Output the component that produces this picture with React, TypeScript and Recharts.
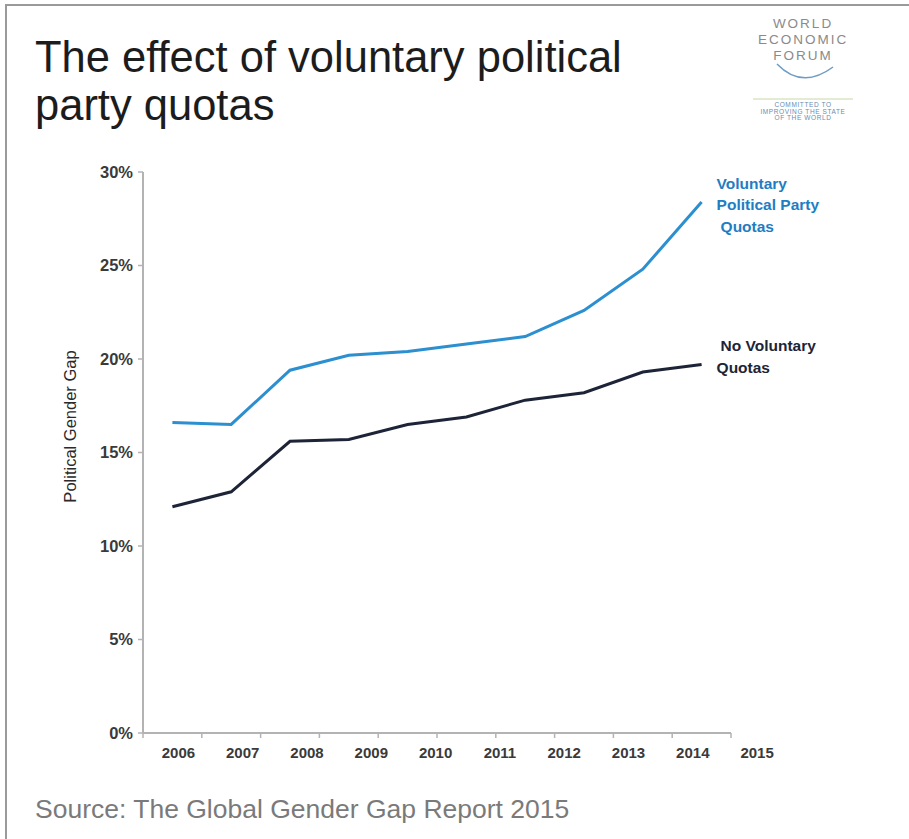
import React from 'react';
import { LineChart, Line, XAxis, YAxis, LabelList, Label } from 'recharts';

const years = ['2006', '2007', '2008', '2009', '2010', '2011', '2012', '2013', '2014', '2015'];
const voluntaryQuotas = [16.6, 16.5, 19.4, 20.2, 20.4, 20.8, 21.2, 22.6, 24.8, 28.4];
const noVoluntaryQuotas = [12.1, 12.9, 15.6, 15.7, 16.5, 16.9, 17.8, 18.2, 19.3, 19.7];
const yTicks = [0, 5, 10, 15, 20, 25, 30];
const voluntaryLabel = ['Voluntary', 'Political Party', 'Quotas'];
const noVoluntaryLabel = ['No Voluntary', 'Quotas'];
const titleLines = ['The effect of voluntary political', 'party quotas'];
const yAxisTitle = 'Political Gender Gap';
const sourceText = 'Source: The Global Gender Gap Report 2015';
const logoLines = ['WORLD', 'ECONOMIC', 'FORUM'];
const logoTagline = ['COMMITTED TO', 'IMPROVING THE STATE', 'OF THE WORLD'];

const data = years.map((year, i) => ({
  year,
  voluntary: voluntaryQuotas[i],
  none: noVoluntaryQuotas[i],
}));

const BLUE = '#2b8fd0';
const BLUE_TEXT = '#1f7dc2';
const DARK = '#1d2438';
const AXIS = '#b3b3b3';
const FONT = '"Liberation Sans", Arial, Helvetica, sans-serif';

const XTick = (props: any) => {
  const { x, y, payload } = props;
  const i = payload.index ?? props.index ?? 0;
  const half = payload.offset || 29.4;
  const isLast = i === years.length - 1;
  return (
    <g>
      <line x1={x - half} x2={x - half} y1={y} y2={y + 5} stroke={AXIS} strokeWidth={1.5} />
      {isLast && <line x1={x + half} x2={x + half} y1={y} y2={y + 5} stroke={AXIS} strokeWidth={1.5} />}
      <text
        x={x + 6 + 5.5 * i}
        y={y + 25}
        textAnchor="middle"
        fontFamily={FONT}
        fontWeight="bold"
        fontSize={15}
        fill="#3a3a3a"
      >
        {payload.value}
      </text>
    </g>
  );
};

const makeEndLabel = (lines: string[], color: string, dys: number[], dxs: number[]) => (props: any) => {
  const { x, y, index } = props;
  if (index !== years.length - 1) return null;
  return (
    <g>
      {lines.map((t, k) => (
        <text
          key={k}
          x={x + dxs[k]}
          y={y + dys[k]}
          fontFamily={FONT}
          fontWeight="bold"
          fontSize={15.5}
          fill={color}
        >
          {t}
        </text>
      ))}
    </g>
  );
};

const YTitle = (props: any) => {
  const vb = props.viewBox || { x: 0, y: 0, width: 0, height: 0 };
  const cx = vb.x + 70;
  const cy = vb.y + vb.height / 2 - 26;
  return (
    <text
      x={cx}
      y={cy}
      transform={`rotate(-90, ${cx}, ${cy})`}
      textAnchor="middle"
      dominantBaseline="central"
      fontFamily={FONT}
      fontSize={16.5}
      fill="#2a2a2a"
    >
      {yAxisTitle}
    </text>
  );
};

export default function App() {
  return (
    <div
      style={{
        position: 'absolute',
        left: 0,
        top: 0,
        width: 909,
        height: 839,
        background: '#fff',
        overflow: 'hidden',
      }}
    >
      <div
        style={{
          position: 'absolute',
          left: 5,
          top: 4,
          width: 904,
          height: 835,
          borderTop: '2px solid #9a9a9a',
          borderLeft: '2px solid #9a9a9a',
          boxSizing: 'border-box',
        }}
      />
      <div style={{ position: 'absolute', left: 0, top: 0 }}>
        <LineChart
          width={909}
          height={839}
          data={data}
          margin={{ top: 172, right: 178, bottom: 66, left: 0 }}
        >
          <XAxis
            dataKey="year"
            type="category"
            scale="band"
            height={40}
            axisLine={{ stroke: AXIS, strokeWidth: 2 }}
            tickLine={false}
            tickSize={0}
            tickMargin={0}
            tick={<XTick />}
            interval={0}
          />
          <YAxis
            width={143}
            domain={[0, 30]}
            ticks={yTicks}
            interval={0}
            tickFormatter={(v: number) => `${v}%`}
            axisLine={{ stroke: AXIS, strokeWidth: 2 }}
            tickLine={{ stroke: AXIS, strokeWidth: 1.5 }}
            tickSize={5}
            tickMargin={5}
            tick={{ fill: '#3a3a3a', fontSize: 16.5, fontWeight: 'bold', fontFamily: FONT }}
          >
            <Label content={<YTitle />} />
          </YAxis>
          <Line
            dataKey="voluntary"
            stroke={BLUE}
            strokeWidth={3}
            dot={false}
            isAnimationActive={false}
          >
            <LabelList
              dataKey="voluntary"
              content={makeEndLabel(voluntaryLabel, BLUE_TEXT, [-13, 8, 30], [15, 15, 19])}
            />
          </Line>
          <Line
            dataKey="none"
            stroke={DARK}
            strokeWidth={3}
            dot={false}
            isAnimationActive={false}
          >
            <LabelList
              dataKey="none"
              content={makeEndLabel(noVoluntaryLabel, DARK, [-14, 8], [19, 15])}
            />
          </Line>
        </LineChart>
      </div>
      <div
        style={{
          position: 'absolute',
          left: 35,
          top: 33,
          fontFamily: FONT,
          fontSize: 43.5,
          lineHeight: '48px',
          color: '#1c1c1c',
          whiteSpace: 'nowrap',
        }}
      >
        {titleLines.map((t, i) => (
          <div key={i}>{t}</div>
        ))}
      </div>
      <svg
        style={{ position: 'absolute', left: 740, top: 0 }}
        width={130}
        height={130}
      >
        {logoLines.map((t, i) => (
          <text
            key={i}
            x={63}
            y={28 + i * 16}
            textAnchor="middle"
            fontFamily={FONT}
            fontSize={13.5}
            letterSpacing={2}
            fill="#8a8a8a"
          >
            {t}
          </text>
        ))}
        <path d="M 37 64 Q 62 90 93 67" fill="none" stroke="#6f9cc4" strokeWidth={1.5} />
        <line x1={13} x2={113} y1={99} y2={99} stroke="#c9d8a8" strokeWidth={1.2} />
        {logoTagline.map((t, i) => (
          <text
            key={i}
            x={63}
            y={107 + i * 6.5}
            textAnchor="middle"
            fontFamily={FONT}
            fontSize={6.5}
            letterSpacing={0.6}
            fill="#6a8cb0"
          >
            {t}
          </text>
        ))}
      </svg>
      <div
        style={{
          position: 'absolute',
          left: 35,
          top: 796,
          fontFamily: FONT,
          fontSize: 26.5,
          lineHeight: 1,
          color: '#7a7a7a',
          whiteSpace: 'nowrap',
        }}
      >
        {sourceText}
      </div>
    </div>
  );
}
